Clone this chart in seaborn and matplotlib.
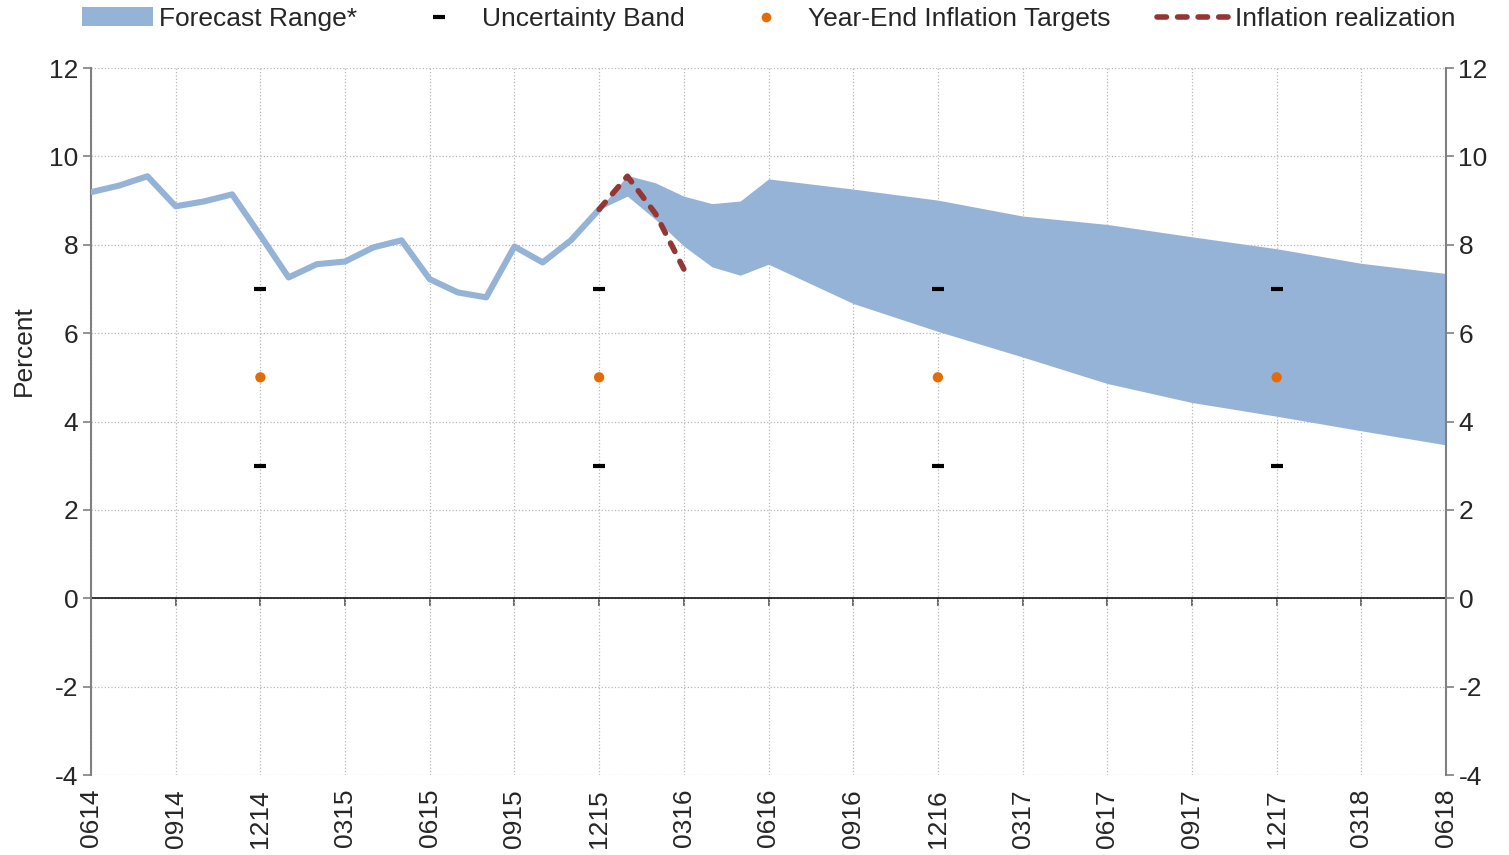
import matplotlib
matplotlib.use("Agg")
import matplotlib.pyplot as plt
import seaborn as sns
import pandas as pd
import numpy as np
from matplotlib.patches import Patch
from matplotlib.lines import Line2D

# ---------------- data ----------------
tick_labels = ["0614", "0914", "1214", "0315", "0615", "0915", "1215", "0316",
               "0616", "0916", "1216", "0317", "0617", "0917", "1217", "0318", "0618"]
tick_pos = [0, 3, 6, 9, 12, 15, 18, 21, 24, 27, 30, 33, 36, 39, 42, 45, 48]  # months since 0614

hist_x = [0, 1, 2, 3, 4, 5, 6, 7, 8, 9, 10, 11, 12, 13, 14, 15, 16, 17, 18]
hist_y = [9.19, 9.34, 9.55, 8.87, 8.98, 9.14, 8.21, 7.26, 7.56, 7.62, 7.94,
          8.10, 7.22, 6.92, 6.81, 7.96, 7.60, 8.10, 8.80]

band_x = [18, 19, 20, 21, 22, 23, 24, 27, 30, 33, 36, 39, 42, 45, 48]
band_upper = [8.80, 9.57, 9.40, 9.10, 8.93, 8.99, 9.49, 9.26, 9.01, 8.65, 8.46, 8.18, 7.91, 7.58, 7.35]
band_lower = [8.80, 9.10, 8.57, 7.97, 7.50, 7.31, 7.56, 6.67, 6.04, 5.46, 4.86, 4.43, 4.12, 3.79, 3.47]

real_x = [18, 19, 20, 21]
real_y = [8.80, 9.55, 8.70, 7.45]

target_x = [6, 18, 30, 42]
target_y = [5.0, 5.0, 5.0, 5.0]
unc_upper = [7.0, 7.0, 7.0, 7.0]
unc_lower = [3.0, 3.0, 3.0, 3.0]

# ---------------- style ----------------
sns.set_style("white")
plt.rcParams['font.family'] = ['Liberation Sans', 'DejaVu Sans']
plt.rcParams['axes.unicode_minus'] = False

blue = "#95B3D7"
orange = "#E36C09"
darkred = "#943634"
FS = 19
DASH = [1.7, 2.0]

fig = plt.figure(figsize=(15.09, 8.55), dpi=100)
ax = fig.add_axes([91/1509, 1 - 775/855, (1446 - 91)/1509, (775 - 68)/855])

hist_df = pd.DataFrame({"x": hist_x, "y": hist_y})
real_df = pd.DataFrame({"x": real_x, "y": real_y})
targ_df = pd.DataFrame({"x": target_x, "y": target_y})

ax.axhline(0, color="black", linewidth=1.1, zorder=1.5)
ax.fill_between(band_x, band_lower, band_upper, color=blue, linewidth=0, zorder=2)
sns.lineplot(data=hist_df, x="x", y="y", ax=ax, color=blue, linewidth=4.4,
             zorder=3)
sns.lineplot(data=real_df, x="x", y="y", ax=ax, color=darkred, linewidth=4.0,
             zorder=4)
ax.lines[-1].set_dashes(DASH)
ax.lines[-1].set_dash_capstyle("round")

ax.plot(target_x, unc_upper, linestyle="none", marker="_", markersize=9,
        markeredgewidth=3, color="black", zorder=5)
ax.plot(target_x, unc_lower, linestyle="none", marker="_", markersize=9,
        markeredgewidth=3, color="black", zorder=5)
sns.scatterplot(data=targ_df, x="x", y="y", ax=ax, color=orange, s=55,
                edgecolor="none", zorder=5)

# ---------------- axes ----------------
ax.set_xlim(0, 48)
ax.set_ylim(-4, 12)
ax.set_yticks(np.arange(-4, 13, 2))
ax.set_xticks(tick_pos)
ax.set_xticklabels(tick_labels, rotation=90)
ax.set_xlabel("")
ax.set_ylabel("Percent", fontsize=FS)
ax.yaxis.set_label_coords(-0.041, 0.60)

ax.grid(True, color="#b8b8b8", linestyle=":", linewidth=0.9, zorder=0)
ax.set_axisbelow(True)

for s in ["top", "bottom"]:
    ax.spines[s].set_visible(False)
for s in ["left", "right"]:
    ax.spines[s].set_color("#808080")
    ax.spines[s].set_linewidth(1.5)

ax.tick_params(axis="y", which="both", left=True, right=True, labelleft=True,
               labelright=True, direction="out", length=6, width=1.2,
               color="#808080", labelsize=FS, pad=3)
ax.tick_params(axis="x", bottom=False, length=0, labelsize=FS, pad=10)

# zero axis ticks
sec = ax.secondary_xaxis(0.25)
sec.set_xticks(tick_pos)
sec.tick_params(axis="x", bottom=True, direction="out", length=6, width=1.1,
                color="#404040", labelbottom=False)
sec.spines["bottom"].set_visible(False)

# ---------------- legend ----------------
handles = [
    Patch(facecolor=blue, edgecolor="none"),
    Line2D([], [], linestyle="none", marker="_", markersize=9, markeredgewidth=3, color="black"),
    Line2D([], [], linestyle="none", marker="o", markersize=7, color=orange, markeredgecolor="none"),
    Line2D([], [], color=darkred, linewidth=4.0, dashes=DASH, dash_capstyle="round"),
]
labels = ["Forecast Range*", "Uncertainty Band", "Year-End Inflation Targets", "Inflation realization"]
leg = ax.legend(handles, labels, loc="center", bbox_to_anchor=(0.5, 1 + (68 - 19) / 707),
                ncol=4, frameon=False, fontsize=FS, handlelength=2.7,
                handleheight=0.75, columnspacing=1.75, handletextpad=0.25,
                borderaxespad=0.0, borderpad=0.0)

fig.savefig("out.png", dpi=100)
